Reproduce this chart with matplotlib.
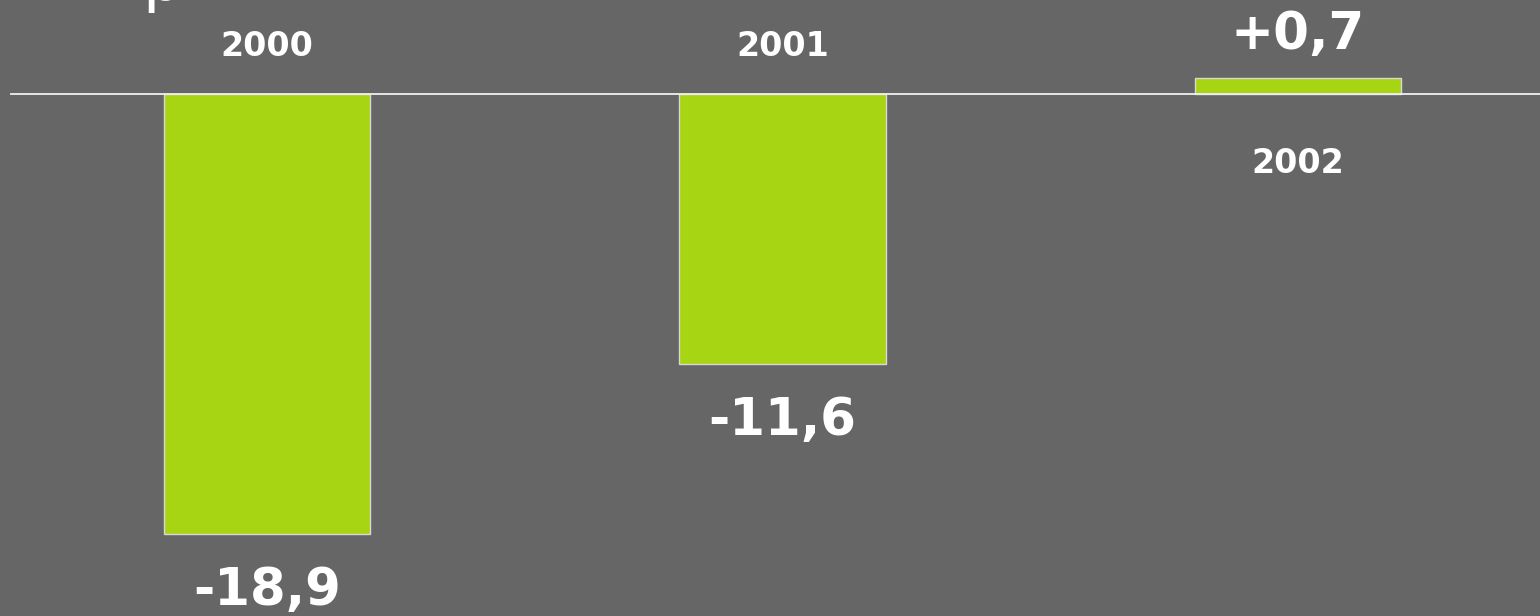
import matplotlib
matplotlib.use("Agg")
import matplotlib.pyplot as plt

years = ["2000", "2001", "2002"]
values = [-18.9, -11.6, 0.7]
value_labels = ["-18,9", "-11,6", "+0,7"]

bg = "#666666"
green = "#a8d513"

W, H = 1540, 616
fig = plt.figure(figsize=(W / 100, H / 100), dpi=100, facecolor=bg)
ax = fig.add_axes([0, 0, 1, 1], facecolor=bg)

# pixel layout
px_per_x = 515.5
px_per_y = 23.28
x0_px, zero_px = 267, 94
ax.set_xlim(-x0_px / px_per_x, (W - x0_px) / px_per_x)
ax.set_ylim(-(H - zero_px) / px_per_y, zero_px / px_per_y)
ax.axis("off")

xs = range(len(values))
ax.bar(xs, values, width=0.4, color=green, edgecolor="#d8d8d8", linewidth=1, zorder=2)
ax.axhline(0, xmin=11 / W, xmax=1, color="#f0f0f0", linewidth=1.3, zorder=3)

for x, v, yr, lab in zip(xs, values, years, value_labels):
    if v < 0:
        ax.annotate(lab, (x, v), xytext=(0, -41), textcoords="offset points",
                    ha="center", va="center", color="white", fontsize=37, fontweight="bold")
        ax.annotate(yr, (x, 0), xytext=(0, 34.5), textcoords="offset points",
                    ha="center", va="center", color="white", fontsize=24, fontweight="bold")
    else:
        ax.annotate(lab, (x, v), xytext=(0, 31), textcoords="offset points",
                    ha="center", va="center", color="white", fontsize=37, fontweight="bold")
        ax.annotate(yr, (x, 0), xytext=(0, -50), textcoords="offset points",
                    ha="center", va="center", color="white", fontsize=24, fontweight="bold")

# remnant of a cut-off title at the top edge (only the descender is visible)
fig.text(142 / W, 1.0, "p", ha="left", va="baseline", color="white", fontsize=46)

fig.savefig("out.png", dpi=100, facecolor=bg)
